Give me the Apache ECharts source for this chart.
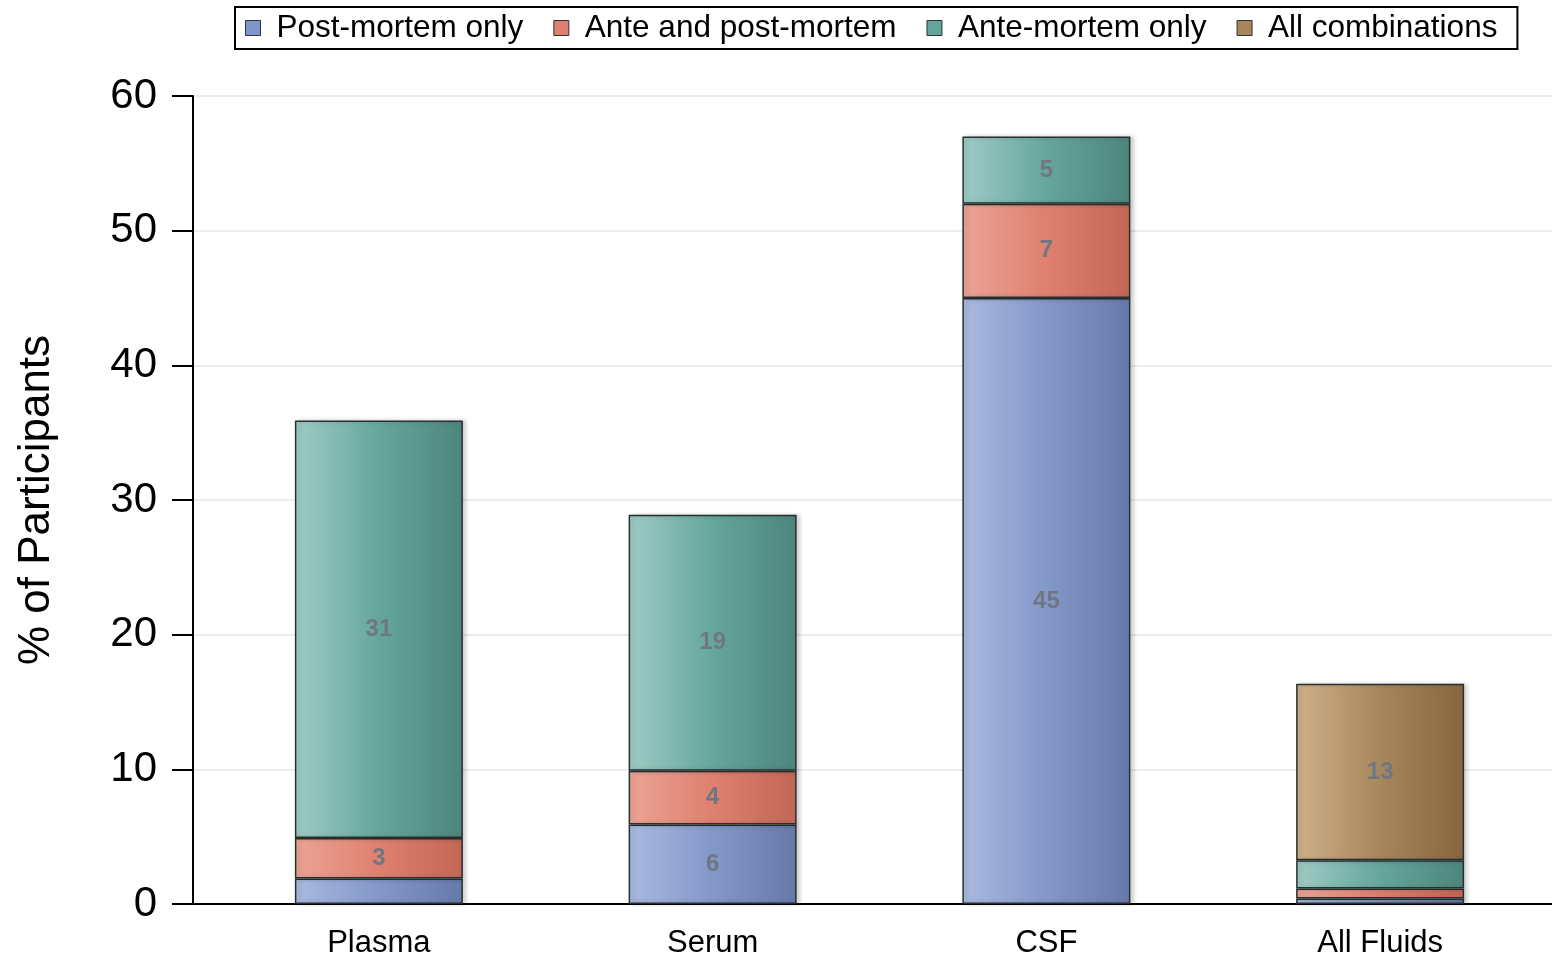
<!DOCTYPE html>
<html>
<head>
    <meta http-equiv="Content-Type" content="text/html; charset=utf-8" />
    <title>% of Participants by fluid</title>
    <script src="https://cdn.jsdelivr.net/npm/echarts@6/dist/echarts.min.js"></script>
</head>
<body style="margin:0;padding:0;background:#ffffff;">
    <div id="main" style="width:1552px;height:956px;"></div>
    <script type="text/javascript">
        // data
        var categories = ['Plasma', 'Serum', 'CSF', 'All Fluids'];
        var seriesNames = ['Post-mortem only', 'Ante and post-mortem', 'Ante-mortem only', 'All combinations'];
        var postMortem = [1.9, 5.9, 45, 0.4];
        var antePost = [3, 4, 7, 0.75];
        var anteMortem = [31, 19, 5, 2.1];
        var allComb = [0, 0, 0, 13.1];
        var yTicks = [0, 10, 20, 30, 40, 50, 60];

        // light-left / dark-right shading per series
        var shades = [
            ['#aab9df', '#8397c9', '#6779a9'],
            ['#eba495', '#df8070', '#c26655'],
            ['#9ecbc5', '#65a69c', '#4d857c'],
            ['#ceb08a', '#a8865c', '#86663f']
        ];
        var legendColors = ['#8095c9', '#df8070', '#62a69c', '#a8865c'];

        function barGradient(c) {
            return new echarts.graphic.LinearGradient(0, 0, 1, 0, [
                { offset: 0, color: c[0] },
                { offset: 0.5, color: c[1] },
                { offset: 1, color: c[2] }
            ]);
        }

        var allData = [postMortem, antePost, anteMortem, allComb];
        var seriesList = [];
        for (var i = 0; i < allData.length; i++) {
            seriesList.push({
                name: seriesNames[i],
                type: 'bar',
                stack: 'total',
                xAxisIndex: 0,
                yAxisIndex: 0,
                barWidth: 168,
                itemStyle: {
                    color: barGradient(shades[i]),
                    borderColor: '#26302f',
                    borderWidth: 1.5,
                    shadowColor: 'rgba(0,0,0,0.18)',
                    shadowBlur: 4,
                    shadowOffsetX: 3
                },
                label: {
                    show: true,
                    position: 'inside',
                    color: '#6f7780',
                    fontWeight: 'bold',
                    fontSize: 24,
                    fontFamily: 'Liberation Sans, Arial, sans-serif',
                    formatter: function (p) {
                        return p.value < 2.5 ? '' : Math.round(p.value);
                    }
                },
                emphasis: { disabled: true },
                data: allData[i].map(function (v) { return v === 0 ? null : v; })
            });
        }

        var chart = echarts.init(document.getElementById('main'));
        var option = {
            animation: false,
            backgroundColor: '#ffffff',
            textStyle: { fontFamily: 'Liberation Sans, Arial, sans-serif' },
            legend: {
                top: 7,
                left: 235,
                padding: [5, 20, 5, 10],
                borderColor: '#000000',
                borderWidth: 2,
                itemWidth: 15,
                itemHeight: 15,
                itemGap: 30,
                icon: 'rect',
                textStyle: { fontSize: 31.5, color: '#000000', padding: [0, 0, 0, 11] },
                data: seriesNames.map(function (n, k) {
                    return {
                        name: n,
                        itemStyle: { color: legendColors[k], borderColor: '#333', borderWidth: 1 }
                    };
                })
            },
            grid: [
                { left: 212, right: 5, top: 96, bottom: 52, outerBoundsMode: 'none' },
                { left: 193, right: 0, top: 96, bottom: 52, outerBoundsMode: 'none' }
            ],
            xAxis: [
                {
                    type: 'category',
                    gridIndex: 0,
                    data: categories,
                    axisLine: { show: false },
                    axisTick: { show: false },
                    axisLabel: { fontSize: 31, color: '#000000', margin: 24 }
                },
                {
                    type: 'value',
                    gridIndex: 1,
                    min: 0,
                    max: 1,
                    axisLine: { show: true, lineStyle: { color: '#000000', width: 2 } },
                    axisTick: { show: false },
                    axisLabel: { show: false },
                    splitLine: { show: false }
                }
            ],
            yAxis: [
                {
                    type: 'value',
                    gridIndex: 0,
                    min: 0,
                    max: 60,
                    interval: 10,
                    show: false
                },
                {
                    type: 'value',
                    gridIndex: 1,
                    min: yTicks[0],
                    max: yTicks[yTicks.length - 1],
                    interval: 10,
                    name: '% of Participants',
                    nameLocation: 'middle',
                    nameGap: 134,
                    nameTextStyle: { fontSize: 44, color: '#000000' },
                    axisLine: { show: true, lineStyle: { color: '#000000', width: 2 } },
                    axisTick: { show: true, length: 21, lineStyle: { color: '#000000', width: 2 } },
                    axisLabel: { fontSize: 42, color: '#000000', margin: 36 },
                    splitLine: { show: true, lineStyle: { color: '#e6e6e6', width: 1.5 } }
                }
            ],
            series: seriesList
        };
        chart.setOption(option);
    </script>
</body>
</html>
